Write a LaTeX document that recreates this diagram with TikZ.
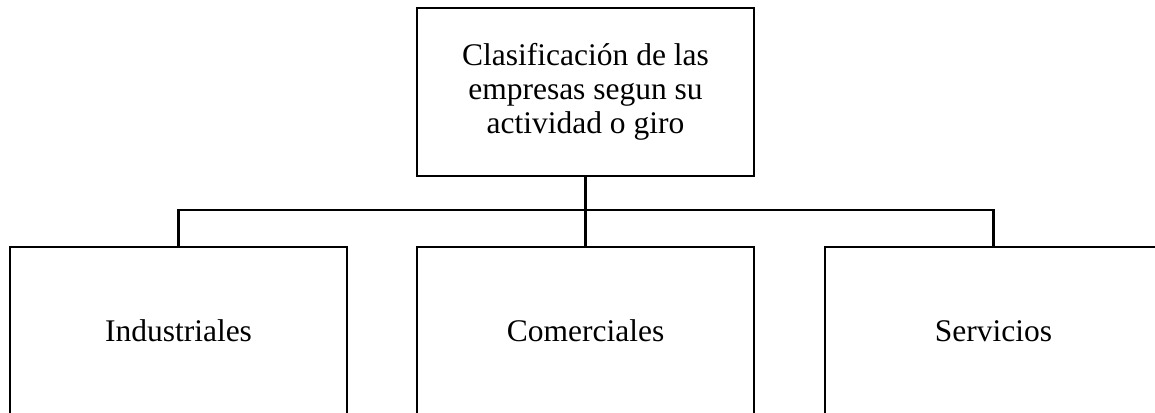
\documentclass[tikz,border=0pt]{standalone}
\usepackage{fontspec}
\setmainfont{Liberation Serif}
\begin{document}
\begin{tikzpicture}[x=1pt,y=1pt,
  box/.style={draw=black, line width=2.2pt, minimum width=337pt, minimum height=168pt,
    inner sep=0pt, align=center, font=\fontsize{31.5}{34}\selectfont},
  link/.style={draw=black, line width=2.2pt}]
\useasboundingbox (0,0) rectangle (1155,-412);
\clip (0,0) rectangle (1155,-412);
\node[box] (top) at (585.5,-92) {Clasificación de las\\empresas segun su\\actividad o giro};
\node[box] (ind) at (178.5,-331) {Industriales};
\node[box] (com) at (585.5,-331) {Comerciales};
\node[box] (ser) at (993.5,-331) {Servicios};
\draw[link] (top.south) -- (com.north);
\draw[link] (ind.north) -- ++(0,36) -| (ser.north);
\end{tikzpicture}
\end{document}
